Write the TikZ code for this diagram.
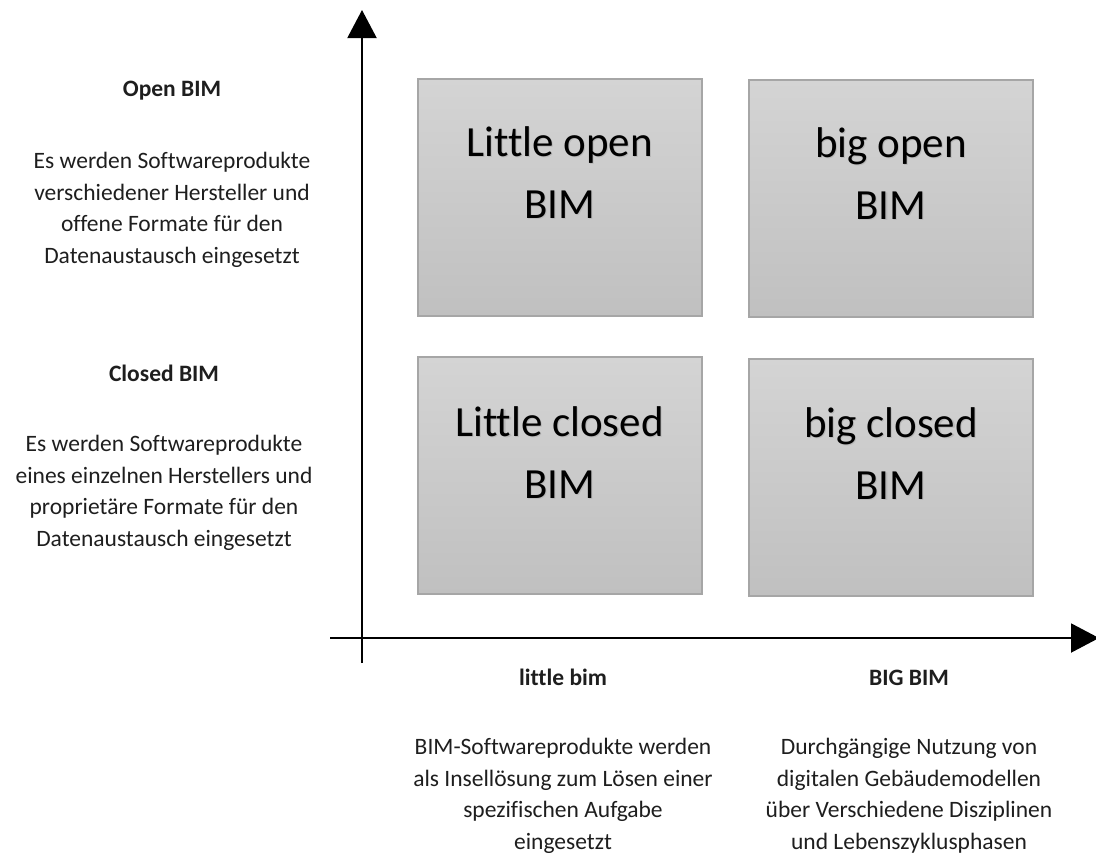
\documentclass[tikz,border=0pt]{standalone}
\usepackage{fontspec}
\setmainfont{Carlito}[Ligatures=NoCommon]
\usetikzlibrary{arrows.meta}

\definecolor{boxtop}{HTML}{D4D4D4}
\definecolor{boxbot}{HTML}{C0C0C0}
\definecolor{boxline}{HTML}{A6A6A6}
\definecolor{inkc}{HTML}{1E1E1E}

% label text with a soft shadow underneath
\newcommand\shadowed[1]{\leavevmode\rlap{\kern1.2pt\raisebox{-1.4pt}{\textcolor{black!28}{#1}}}#1}

\begin{document}
\begin{tikzpicture}[x=1pt,y=-1pt,
  quad/.style={draw=boxline, line width=2pt, top color=boxtop, bottom color=boxbot,
               minimum width=284pt, minimum height=237pt, inner sep=0pt},
  quadtext/.style={anchor=base, align=center, inner sep=0pt,
                   font=\fontsize{43}{62}\selectfont},
  axis/.style={line width=2pt, -{Triangle[length=28pt,width=29pt]}},
  head/.style={anchor=base, inner sep=0pt, text=inkc,
               font=\fontsize{23.5}{31.5}\selectfont\bfseries},
  body/.style={anchor=base, align=center, inner sep=0pt, text=inkc,
               font=\fontsize{23.5}{31.5}\selectfont}
]
\useasboundingbox (0,0) rectangle (1096,854);

% axes
\coordinate (ybot) at (362,663);
\coordinate (ytop) at (362,10);
\coordinate (xleft) at (330,638);
\coordinate (xright) at (1099,638);
\draw[axis] (ybot) -- (ytop);
\draw[axis] (xleft) -- (xright);

% quadrants
\node[quad] (lo) at (559.5,197) {};
\node[quad] (bo) at (891,198) {};
\node[quad] (lc) at (559.5,475.5) {};
\node[quad] (bc) at (891,477) {};

% multi-line texts are placed by the baseline of their last line
\node[quadtext] (lot) at (559.5,218) {\shadowed{Little open}\\\shadowed{BIM}};
\node[quadtext] (bot) at (891,219) {\shadowed{big open}\\\shadowed{BIM}};
\node[quadtext] (lct) at (559.5,498) {\shadowed{Little closed}\\\shadowed{BIM}};
\node[quadtext] (bct) at (891,499) {\shadowed{big closed}\\\shadowed{BIM}};

% vertical axis captions
\node[head] (openh) at (172,96) {Open BIM};
\node[body] (openb) at (172,263) {Es werden Softwareprodukte\\verschiedener Hersteller und\\offene Formate für den\\Datenaustausch eingesetzt};
\node[head] (closedh) at (164,381) {Closed BIM};
\node[body] (closedb) at (164,546) {Es werden Softwareprodukte\\eines einzelnen Herstellers und\\proprietäre Formate für den\\Datenaustausch eingesetzt};

% horizontal axis captions
\node[head] (littleh) at (563,685) {little bim};
\node[body] (littleb) at (563,849) {BIM-Softwareprodukte werden\\als Insellösung zum Lösen einer\\spezifischen Aufgabe\\eingesetzt};
\node[head] (bigh) at (909,685) {BIG BIM};
\node[body] (bigb) at (909,849) {Durchgängige Nutzung von\\digitalen Gebäudemodellen\\über Verschiedene Disziplinen\\und Lebenszyklusphasen};
\end{tikzpicture}
\end{document}
